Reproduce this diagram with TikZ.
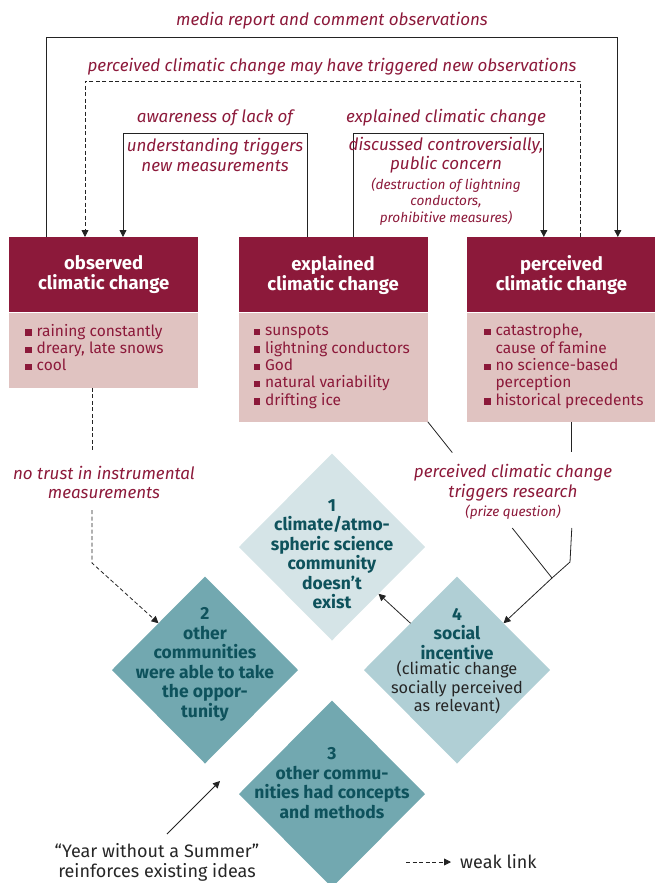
\documentclass[tikz,border=0pt]{standalone}
\usepackage{fontspec}
\setmainfont{Fira Sans}
\usetikzlibrary{shapes.geometric, arrows.meta, positioning, calc}
\definecolor{headColor}{RGB}{140, 25, 58}
\definecolor{bodyColor}{RGB}{224, 195, 193}
\definecolor{paleTeal}{RGB}{213, 228, 231}
\definecolor{midTeal}{RGB}{176, 207, 213}
\definecolor{deepTeal}{RGB}{114, 168, 176}
\definecolor{tealText}{RGB}{14, 82, 92}
\definecolor{lineColor}{RGB}{35, 35, 35}
\newcommand{\bsq}{\textcolor{headColor}{\rule[0.5pt]{6.5pt}{6.5pt}}}

\begin{document}
\begin{tikzpicture}[
    x=1pt, y=-1pt,
    head/.style={rectangle, fill=headColor, text=white, minimum width=189pt, minimum height=75pt, inner sep=0pt, align=center, font=\fontsize{18.5}{20}\selectfont\bfseries},
    body/.style={rectangle, fill=bodyColor, minimum width=189pt, inner sep=0pt},
    items/.style={inner sep=0pt, text=headColor, font=\fontsize{15.5}{17.3}\selectfont},
    diam/.style={diamond, aspect=1, minimum width=186pt, minimum height=187pt, inner sep=0pt, outer sep=0pt},
    dtext/.style={align=center, inner sep=0pt, text=tealText, font=\fontsize{17.5}{19.5}\selectfont\bfseries},
    note/.style={align=center, inner sep=0pt, text=headColor, font=\fontsize{17}{19.5}\selectfont\itshape},
    smallnote/.style={align=center, inner sep=0pt, text=headColor, font=\fontsize{13.6}{16.5}\selectfont\itshape},
    plain/.style={align=center, inner sep=0pt, text=black!85, font=\fontsize{18}{20}\selectfont},
    link/.style={-{Triangle[length=7pt, width=7pt]}, draw=lineColor, line width=0.8pt},
    weak/.style={draw=lineColor, line width=0.8pt, dash pattern=on 4pt off 2.5pt}
]
    \useasboundingbox (0,0) rectangle (654,883);

    % Climatic change boxes
    \node[head, anchor=north west] (obsHead) at (9,237) {observed\\climatic change};
    \node[head, right=40pt of obsHead] (expHead) {explained\\climatic change};
    \node[head, right=39pt of expHead] (perHead) {perceived\\climatic change};
    \node[body, minimum height=75pt, below=0pt of obsHead] (obsBody) {};
    \node[body, minimum height=109pt, below=0pt of expHead] (expBody) {};
    \node[body, minimum height=109pt, below=0pt of perHead] (perBody) {};

    % Lists
    \node[items, anchor=west] (obsList) at ([xshift=16pt]obsBody.west) {%
        \begin{tabular}{@{}l@{\hspace{5pt}}l@{}}
        \bsq & raining constantly\\
        \bsq & dreary, late snows\\
        \bsq & cool
        \end{tabular}};
    \node[items, anchor=west] (expList) at ([xshift=15pt]expBody.west) {%
        \begin{tabular}{@{}l@{\hspace{5pt}}l@{}}
        \bsq & sunspots\\
        \bsq & lightning conductors\\
        \bsq & God\\
        \bsq & natural variability\\
        \bsq & drifting ice
        \end{tabular}};
    \node[items, anchor=west] (perList) at ([xshift=17pt]perBody.west) {%
        \begin{tabular}{@{}l@{\hspace{5pt}}l@{}}
        \bsq & catastrophe,\\
             & cause of famine\\
        \bsq & no science-based\\
             & perception\\
        \bsq & historical precedents
        \end{tabular}};

    % Diamonds
    \node[diam, fill=paleTeal] (d1) at (332,547) {};
    \node[diam, fill=deepTeal] (d2) at (205,670) {};
    \node[diam, fill=midTeal] (d4) at (457,670) {};
    \node[diam, fill=deepTeal] (d3) at (332,794) {};
    \node[dtext] (d1Text) at ($(d1.center)+(0,7)$) {1\\climate/atmo-\\spheric science\\community\\doesn’t\\exist};
    \node[dtext] (d2Text) at ($(d2.center)+(0,-5.5)$) {2\\other\\communities\\were able to take\\the oppor-\\tunity};
    \node[dtext] (d4Text) at ($(d4.center)+(0,-36)$) {4\\social\\incentive};
    \node[plain, font=\fontsize{16.3}{18.5}\selectfont] (d4Note) at ($(d4.center)+(0,17.5)$) {(climatic change\\socially perceived\\as relevant)};
    \node[dtext] (d3Text) at ($(d3.center)+(0,-11)$) {3\\other commu-\\nities had concepts\\and methods};

    % Levels of the upper connectors
    \coordinate (mediaLevel) at (0,37);
    \coordinate (weakLevel) at (0,81);
    \coordinate (innerLevel) at (0,133);
    \coordinate (mediaStart) at ([xshift=37pt]obsHead.north west);
    \coordinate (mediaEnd) at ([xshift=151pt]perHead.north west);
    \coordinate (weakStart) at ([xshift=114pt]perHead.north west);
    \coordinate (weakEnd) at ([xshift=76pt]obsHead.north west);
    \coordinate (awareStart) at ([xshift=69pt]expHead.north west);
    \coordinate (awareEnd) at ([xshift=114pt]obsHead.north west);
    \coordinate (explStart) at ([xshift=115pt]expHead.north west);
    \coordinate (explEnd) at ([xshift=77pt]perHead.north west);

    % Upper connectors
    \draw[link] (mediaStart) -- (mediaStart |- mediaLevel) -| (mediaEnd);
    \draw[link, weak] (weakStart) -- (weakStart |- weakLevel) -| (weakEnd);
    \draw[link] (awareStart) -- (awareStart |- innerLevel) -| (awareEnd);
    \draw[link] (explStart) -- (explStart |- innerLevel) -| (explEnd);

    % Upper labels
    \node[note] (mediaNote) at (332,21) {media report and comment observations};
    \node[note] (weakNote) at (332,67) {perceived climatic change may have triggered new observations};
    \node[note] (awareNote) at (215,118) {awareness of lack of};
    \node[note] (awareNote2) at (215,155) {understanding triggers\\new measurements};
    \node[note] (explNote) at (446,118) {explained climatic change};
    \node[note] (explNote2) at (446,155) {discussed controversially,\\public concern};
    \node[smallnote] (explNote3) at (446,201.5) {(destruction of lightning\\conductors,\\prohibitive measures)};

    % Lower labels
    \node[note] (trustNote) at (104,482.5) {no trust in instrumental\\measurements};
    \node[note] (resNote) at (513,482.5) {perceived climatic change\\triggers research};
    \node[smallnote] (prizeNote) at (513,512) {(prize question)};
    \node[plain] (yearNote) at (157,862) {“Year without a Summer”\\reinforces existing ideas};
    \node[plain, anchor=west] (legend) at (460,862) {weak link};

    % Lower connectors
    \coordinate (trustStart) at ([xshift=83pt]obsBody.south west);
    \coordinate (trustGapTop) at (92,450);
    \coordinate (trustGapBot) at (92,510);
    \coordinate (trustBend) at (92,563);
    \draw[weak] (trustStart) -- (trustGapTop);
    \draw[link, weak] (trustGapBot) -- (trustBend) -- (d2.north west);

    \coordinate (resMerge) at (552,578);
    \coordinate (perDrop) at ([xshift=105pt]perBody.south west);
    \coordinate (perBend) at (570,562);
    \draw[draw=lineColor, line width=0.8pt] (expBody.south east) -- ($(expBody.south east)!0.197!(resMerge)$);
    \draw[draw=lineColor, line width=0.8pt] ($(expBody.south east)!0.68!(resMerge)$) -- (resMerge);
    \draw[draw=lineColor, line width=0.8pt] (perDrop) -- (perDrop |- 0,452);
    \draw[draw=lineColor, line width=0.8pt] (perDrop |- 0,528) -- (perBend) -- (resMerge);
    \draw[link] (resMerge) -- (d4.north east);
    \draw[link] (d4.north west) -- (d1.south east);

    \coordinate (yearStart) at (167,834);
    \coordinate (yearTip) at (220,781);
    \draw[link] (yearStart) -- (yearTip);

    % Legend
    \coordinate (legendStart) at (406,862);
    \draw[link, weak] (legendStart) -- ([xshift=-9pt]legend.west);

\end{tikzpicture}
\end{document}
